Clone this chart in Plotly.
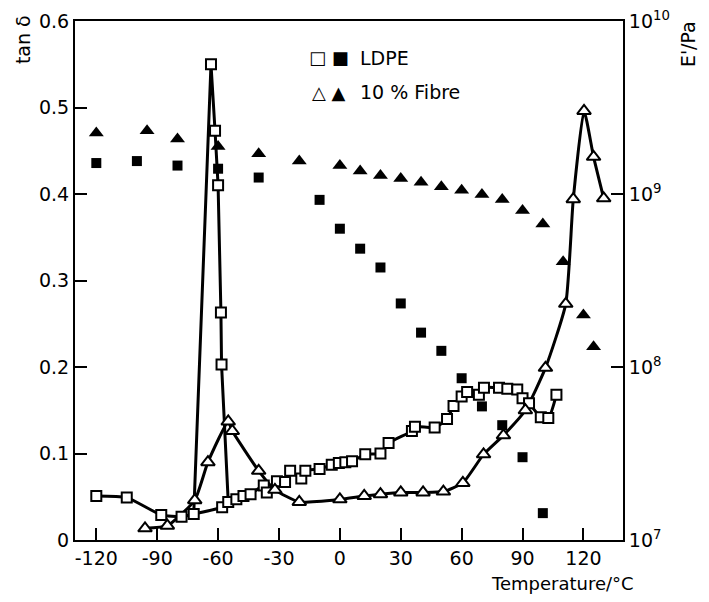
import plotly.graph_objects as go

# ---------------- data ----------------
# LDPE tan delta (open squares), baseline branch
ldpe_T = [-120, -105, -88, -78, -72, -58, -55, -51, -47.5, -44, -37.5, -36, -31, -27,
          -24.5, -19, -17, -10, -4, -0.5, 2.7, 6, 12.5, 20, 24, 35.5, 37, 46.7, 52.8,
          56, 60, 62.7, 68.5, 71, 78.4, 82.5, 87.4, 90, 93.2, 99, 102.7, 106.7]
ldpe_tan = [0.051, 0.049, 0.029, 0.027, 0.030, 0.038, 0.044, 0.047, 0.051, 0.053, 0.063,
            0.055, 0.068, 0.067, 0.080, 0.071, 0.080, 0.082, 0.087, 0.089, 0.090, 0.091,
            0.099, 0.100, 0.112, 0.126, 0.131, 0.130, 0.140, 0.155, 0.166, 0.171, 0.168,
            0.176, 0.176, 0.175, 0.174, 0.164, 0.158, 0.142, 0.141, 0.168]
# LDPE tan delta, glass-transition spike
peak_T = [-63.5, -61.5, -60, -58.6, -58.3]
peak_tan = [0.55, 0.473, 0.41, 0.263, 0.203]

# 10 % Fibre tan delta (open triangles)
fib_T = [-96, -85, -71.5, -65, -55, -53, -40, -32, -20, 0, 12, 20, 30, 41, 51, 60.6,
         70.8, 80.6, 91.4, 101.3, 111.3, 115, 120.3, 125, 130]
fib_tan = [0.0135, 0.0165, 0.046, 0.090, 0.137, 0.126, 0.080, 0.058, 0.044, 0.047, 0.051,
           0.053, 0.055, 0.055, 0.056, 0.066, 0.099, 0.121, 0.150, 0.199, 0.273, 0.394,
           0.496, 0.443, 0.395]

# Storage modulus E' / Pa (filled symbols, right axis)
ldpe_E_T = [-120, -100, -80, -60, -40, -10, 0, 10, 20, 30, 40, 50, 60, 70, 80, 90, 100]
ldpe_E = [1.51e9, 1.55e9, 1.46e9, 1.40e9, 1.245e9, 9.25e8, 6.30e8, 4.83e8, 3.76e8,
          2.33e8, 1.58e8, 1.24e8, 8.61e7, 5.92e7, 4.61e7, 3.01e7, 1.43e7]
fib_E_T = [-120, -95, -80, -60, -40, -20, 0, 10, 20, 30, 40, 50, 60, 70, 80, 90, 100,
           110, 120, 125]
fib_E = [2.25e9, 2.32e9, 2.08e9, 1.88e9, 1.71e9, 1.55e9, 1.46e9, 1.36e9, 1.28e9, 1.23e9,
         1.17e9, 1.10e9, 1.05e9, 9.93e8, 9.29e8, 8.02e8, 6.70e8, 4.06e8, 2.00e8, 1.31e8]

x_ticks = [-120, -90, -60, -30, 0, 30, 60, 90, 120]
x_ticklabels = ["-120", "-90", "-60", "-30", "0", "30", "60", "90", "120"]
y_ticks = [0, 0.1, 0.2, 0.3, 0.4, 0.5, 0.6]
y_ticklabels = ["0", "0.1", "0.2", "0.3", "0.4", "0.5", "0.6"]
y2_ticks = [1e7, 1e8, 1e9, 1e10]
y2_ticklabels = ["10<sup>7</sup>", "10<sup>8</sup>", "10<sup>9</sup>", "10<sup>10</sup>"]

FONT = "DejaVu Sans"
LW = 3

fig = go.Figure()

# LDPE baseline curve
fig.add_trace(go.Scatter(x=ldpe_T, y=ldpe_tan, mode="lines",
                         line=dict(color="black", width=LW, shape="spline", smoothing=0.6),
                         hoverinfo="skip"))
# LDPE spike (linear)
spike_x = [ldpe_T[4]] + peak_T + [ldpe_T[6]]
spike_y = [ldpe_tan[4]] + peak_tan + [ldpe_tan[6]]
fig.add_trace(go.Scatter(x=spike_x, y=spike_y, mode="lines",
                         line=dict(color="black", width=LW), hoverinfo="skip"))
# Fibre curve
fig.add_trace(go.Scatter(x=fib_T, y=fib_tan, mode="lines",
                         line=dict(color="black", width=LW, shape="spline", smoothing=0.5),
                         hoverinfo="skip"))

open_sq = dict(symbol="square", size=10, color="white", line=dict(color="black", width=2))
open_tri = dict(symbol="triangle-up", size=12, color="white", line=dict(color="black", width=2))

fig.add_trace(go.Scatter(x=ldpe_T, y=ldpe_tan, mode="markers", marker=open_sq))
fig.add_trace(go.Scatter(x=peak_T, y=peak_tan, mode="markers", marker=open_sq))
fig.add_trace(go.Scatter(x=fib_T, y=fib_tan, mode="markers", marker=open_tri))

# E' filled markers on right log axis
fig.add_trace(go.Scatter(x=ldpe_E_T, y=ldpe_E, mode="markers", yaxis="y2",
                         marker=dict(symbol="square", size=10, color="black")))
fig.add_trace(go.Scatter(x=fib_E_T, y=fib_E, mode="markers", yaxis="y2",
                         marker=dict(symbol="triangle-up", size=13, color="black")))

axis_common = dict(showline=True, linecolor="black", linewidth=2, ticks="inside",
                   ticklen=12, tickwidth=2, tickcolor="black", showgrid=False,
                   zeroline=False, automargin=False, ticklabeloverflow="allow",
                   tickfont=dict(family=FONT, size=19, color="black"))

# the page body has an 8 px default margin, so the figure is 8 px smaller and the
# plot-area margins are shifted to land where the reference has them
fig.update_layout(
    width=701, height=594,
    margin=dict(l=67, r=86, t=13, b=62, autoexpand=False),
    plot_bgcolor="white", paper_bgcolor="white",
    showlegend=False,
    font=dict(family=FONT, size=18, color="black"),
    xaxis=dict(range=[-130.5, 139.5], tickvals=x_ticks, ticktext=x_ticklabels,
               mirror=True, **axis_common),
    yaxis=dict(range=[0, 0.6], tickvals=y_ticks, ticktext=y_ticklabels, **axis_common),
    yaxis2=dict(type="log", range=[7, 10], overlaying="y", side="right",
                tickvals=y2_ticks, ticktext=y2_ticklabels, **axis_common),
)

annos = [
    dict(text="tan δ", x=-0.095, y=0.965, textangle=-90, size=19),
    dict(text="E'/Pa", x=1.12, y=0.955, textangle=-90, size=19),
    dict(text="Temperature/°C", x=0.89, y=-0.083, size=18),
    dict(text="□ ■", x=0.464, y=0.929, size=18),
    dict(text="LDPE", x=0.516, y=0.929, xanchor="left", size=19),
    dict(text="△ ▲", x=0.464, y=0.863, size=18),
    dict(text="10 % Fibre", x=0.516, y=0.863, xanchor="left", size=19),
]
for a in annos:
    size = a.pop("size")
    a.setdefault("xanchor", "center")
    fig.add_annotation(xref="paper", yref="paper", showarrow=False, yanchor="middle",
                       font=dict(family=FONT, color="black", size=size), **a)

fig.write_html("out.html")
